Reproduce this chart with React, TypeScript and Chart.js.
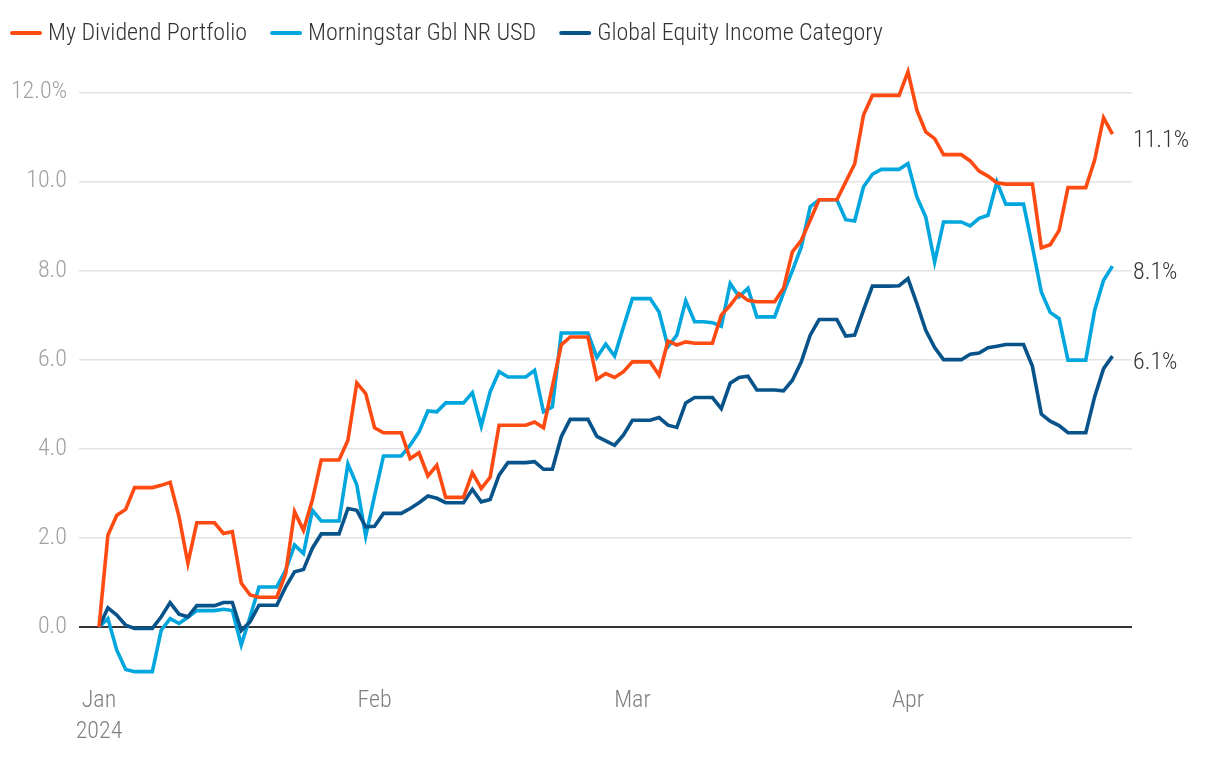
import React, { useEffect, useRef } from 'react';
import { Chart, registerables } from 'chart.js';

Chart.register(...registerables);

// ---- Data (daily values, day 0 = 2024-01-01) ----
const seriesNames = ['My Dividend Portfolio', 'Morningstar Gbl NR USD', 'Global Equity Income Category'];
const seriesColors = ['#FF4A12', '#00A6DE', '#07538A'];

const dividendPortfolio = [
  0, 2.06, 2.51, 2.64, 3.13, 3.13, 3.13, 3.18, 3.25, 2.48,
  1.43, 2.34, 2.34, 2.34, 2.10, 2.14, 0.99, 0.72, 0.67, 0.67,
  0.67, 1.2, 2.59, 2.17, 2.85, 3.75, 3.75, 3.75, 4.19, 5.48,
  5.24, 4.47, 4.36, 4.36, 4.36, 3.78, 3.91, 3.39, 3.63, 2.91,
  2.91, 2.91, 3.46, 3.11, 3.36, 4.53, 4.53, 4.53, 4.53, 4.6,
  4.47, 5.4, 6.33, 6.51, 6.51, 6.51, 5.56, 5.69, 5.60, 5.73,
  5.95, 5.95, 5.95, 5.65, 6.42, 6.33, 6.40, 6.37, 6.37, 6.37,
  7.0, 7.22, 7.48, 7.33, 7.30, 7.30, 7.30, 7.60, 8.42, 8.68,
  9.13, 9.59, 9.59, 9.59, 9.99, 10.39, 11.49, 11.93, 11.93, 11.93,
  11.93, 12.46, 11.6, 11.11, 10.96, 10.60, 10.60, 10.60, 10.46, 10.23,
  10.12, 9.97, 9.94, 9.94, 9.94, 9.94, 8.51, 8.58, 8.90, 9.86,
  9.86, 9.86, 10.48, 11.43, 11.06,
];

const morningstarGblNrUsd = [
  0, 0.19, -0.52, -0.95, -1.0, -1.0, -1.0, -0.07, 0.19, 0.08,
  0.22, 0.37, 0.37, 0.37, 0.40, 0.37, -0.40, 0.23, 0.90, 0.90,
  0.90, 1.28, 1.84, 1.65, 2.62, 2.38, 2.38, 2.38, 3.66, 3.19,
  2.04, 2.95, 3.84, 3.84, 3.84, 4.08, 4.38, 4.85, 4.83, 5.03,
  5.03, 5.03, 5.26, 4.51, 5.28, 5.73, 5.61, 5.61, 5.61, 5.76,
  4.83, 4.94, 6.60, 6.60, 6.60, 6.60, 6.05, 6.35, 6.08, 6.74,
  7.37, 7.37, 7.37, 7.07, 6.29, 6.55, 7.32, 6.85, 6.85, 6.83,
  6.75, 7.71, 7.41, 7.60, 6.96, 6.96, 6.96, 7.5, 8.0, 8.53,
  9.43, 9.59, 9.59, 9.59, 9.14, 9.11, 9.88, 10.16, 10.27, 10.27,
  10.27, 10.40, 9.65, 9.20, 8.19, 9.09, 9.09, 9.09, 9.0, 9.17,
  9.24, 9.99, 9.49, 9.49, 9.49, 8.53, 7.52, 7.06, 6.92, 5.99,
  5.99, 5.99, 7.11, 7.78, 8.10,
];

const globalEquityIncome = [
  0, 0.43, 0.27, 0.04, -0.03, -0.03, -0.03, 0.23, 0.55, 0.29,
  0.23, 0.48, 0.48, 0.48, 0.55, 0.55, -0.08, 0.12, 0.49, 0.49,
  0.49, 0.90, 1.24, 1.29, 1.77, 2.09, 2.09, 2.09, 2.66, 2.62,
  2.25, 2.26, 2.55, 2.55, 2.55, 2.66, 2.79, 2.94, 2.89, 2.79,
  2.79, 2.79, 3.09, 2.81, 2.86, 3.41, 3.69, 3.69, 3.69, 3.71,
  3.54, 3.54, 4.27, 4.66, 4.66, 4.66, 4.28, 4.18, 4.08, 4.31,
  4.64, 4.64, 4.64, 4.70, 4.53, 4.48, 5.03, 5.15, 5.15, 5.15,
  4.90, 5.47, 5.60, 5.63, 5.32, 5.32, 5.32, 5.30, 5.54, 5.95,
  6.55, 6.90, 6.90, 6.90, 6.53, 6.55, 7.11, 7.65, 7.65, 7.65,
  7.66, 7.82, 7.26, 6.66, 6.27, 6.0, 6.0, 6.0, 6.12, 6.15,
  6.27, 6.30, 6.34, 6.34, 6.34, 5.85, 4.78, 4.62, 4.52, 4.36,
  4.36, 4.36, 5.17, 5.80, 6.08,
];

const monthTickDays = [0, 31, 60, 91];
const monthTickLabels = [['Jan', '2024'], ['Feb'], ['Mar'], ['Apr']];
const yTickValues = [0, 2, 4, 6, 8, 10, 12];

const FONT = "'Liberation Sans Narrow', 'Roboto Condensed', 'DejaVu Sans Condensed', 'Liberation Sans', sans-serif";
const FONT_SIZE = 24;
const FONT_WEIGHT = '300';

const legendPlugin = {
  id: 'customLegend',
  afterDraw(chart: any) {
    const ctx = chart.ctx;
    ctx.save();
    ctx.font = `${FONT_WEIGHT} ${FONT_SIZE}px ${FONT}`;
    ctx.textBaseline = 'middle';
    ctx.textAlign = 'left';
    let x = 10;
    const y = 33;
    chart.data.datasets.forEach((ds: any) => {
      ctx.strokeStyle = ds.borderColor;
      ctx.lineWidth = 4;
      ctx.lineCap = 'round';
      ctx.beginPath();
      ctx.moveTo(x + 2, y);
      ctx.lineTo(x + 30, y);
      ctx.stroke();
      ctx.fillStyle = '#333333';
      ctx.fillText(ds.label, x + 38, y + 1);
      x += 38 + ctx.measureText(ds.label).width + 23;
    });
    ctx.restore();
  },
};

const endLabelPlugin = {
  id: 'endLabels',
  afterDatasetsDraw(chart: any) {
    const ctx = chart.ctx;
    const area = chart.chartArea;
    ctx.save();
    ctx.font = `${FONT_WEIGHT} ${FONT_SIZE}px ${FONT}`;
    ctx.textBaseline = 'middle';
    ctx.textAlign = 'left';
    ctx.fillStyle = '#333333';
    chart.data.datasets.forEach((ds: any, i: number) => {
      const meta = chart.getDatasetMeta(i);
      const last = meta.data[meta.data.length - 1];
      const val = ds.data[ds.data.length - 1].y;
      ctx.fillText(val.toFixed(1) + '%', area.right + 1, last.y + 7);
    });
    ctx.restore();
  },
};

export default function App() {
  const canvasRef = useRef<HTMLCanvasElement>(null);

  useEffect(() => {
    const series = [dividendPortfolio, morningstarGblNrUsd, globalEquityIncome];
    const drawOrder = [0, 2, 1];
    const datasets = series.map((values, i) => ({
      label: seriesNames[i],
      data: values.map((v, d) => ({ x: d, y: v })),
      borderColor: seriesColors[i],
      backgroundColor: seriesColors[i],
      borderWidth: 3.6,
      pointRadius: 0,
      pointHoverRadius: 0,
      tension: 0,
      fill: false,
      order: drawOrder[i],
      clip: false as any,
    }));

    const chart = new Chart(canvasRef.current!, {
      type: 'line',
      data: { datasets },
      plugins: [legendPlugin, endLabelPlugin],
      options: {
        animation: false,
        responsive: false,
        maintainAspectRatio: false,
        layout: { padding: { left: 0, right: 88, top: 70, bottom: 0 } },
        plugins: {
          legend: { display: false },
          tooltip: { enabled: false },
        },
        scales: {
          x: {
            type: 'linear',
            min: -2.25,
            max: 116.2,
            grid: { display: false, drawTicks: false },
            border: { display: false },
            afterBuildTicks: (scale: any) => {
              scale.ticks = monthTickDays.map((d) => ({ value: d }));
            },
            afterFit: (scale: any) => {
              scale.height = 73;
            },
            ticks: {
              autoSkip: false,
              maxRotation: 0,
              padding: 0,
              color: '#808080',
              font: { family: FONT, size: FONT_SIZE, weight: FONT_WEIGHT as any, lineHeight: 1.3 },
              callback: (value: any) => {
                const idx = monthTickDays.indexOf(Number(value));
                return idx >= 0 ? monthTickLabels[idx] : '';
              },
            },
          },
          y: {
            type: 'linear',
            min: -1.3,
            max: 12.5,
            grid: {
              drawTicks: false,
              color: (c: any) => (c.tick && c.tick.value === 0 ? '#333333' : '#e3e3e3'),
              lineWidth: (c: any) => (c.tick && c.tick.value === 0 ? 2 : 1.5),
            },
            border: { display: false },
            afterBuildTicks: (scale: any) => {
              scale.ticks = yTickValues.map((v) => ({ value: v }));
            },
            afterFit: (scale: any) => {
              scale.width = 79;
            },
            ticks: {
              padding: 12,
              color: '#a0a0a0',
              font: { family: FONT, size: FONT_SIZE, weight: FONT_WEIGHT as any },
              callback: (value: any) => (Number(value) === 12 ? '12.0%' : Number(value).toFixed(1)),
            },
          },
        },
      },
    });

    return () => chart.destroy();
  }, []);

  return (
    <div style={{ position: 'fixed', left: 0, top: 0, width: 1220, height: 758, background: '#ffffff' }}>
      <canvas ref={canvasRef} width={1220} height={758} style={{ display: 'block' }} />
    </div>
  );
}
